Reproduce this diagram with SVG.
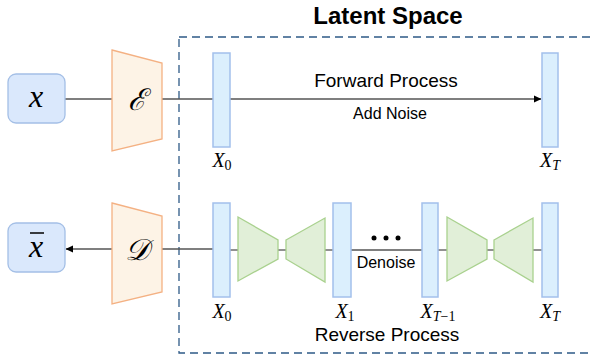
<svg xmlns="http://www.w3.org/2000/svg" width="590" height="360" viewBox="0 0 590 360">
<defs>
<style>
.box{fill:#dae8fc;stroke:#a4bfe6;stroke-width:1.3}
.lat{fill:#dbeffd;stroke:#a3c0eb;stroke-width:1.5}
.enc{fill:#fdf3e6;stroke:#f4b183;stroke-width:1.3}
.net{fill:#e1efd8;stroke:#a9d18e;stroke-width:1.3}
.ln{stroke:#555;stroke-width:1.3;fill:none}
.arr{stroke:#000;stroke-width:1.2;fill:none}
.math{font-family:"Liberation Serif","DejaVu Serif",serif;font-style:italic;fill:#000}
.lbl{font-family:"Liberation Sans",Arial,sans-serif;fill:#000;text-anchor:middle}
.sub{font-size:14px}
</style>
<marker id="ah" markerWidth="8" markerHeight="8" refX="7" refY="4" orient="auto" markerUnits="userSpaceOnUse">
<path d="M0,0.5 L7.5,4 L0,7.5 Z" fill="#000"/>
</marker>
</defs>
<rect x="179" y="37" width="430" height="316" fill="none" stroke="#2e5a87" stroke-width="1.3" stroke-dasharray="8,5"/>
<text class="lbl" x="388" y="24" font-size="24" font-weight="bold">Latent Space</text>
<g id="connectors">
<line class="ln" x1="65" y1="99" x2="112" y2="99"/>
<line class="ln" x1="162" y1="99" x2="213" y2="99"/>
<line class="arr" x1="230" y1="99" x2="541" y2="99" marker-end="url(#ah)"/>
<line class="arr" x1="112" y1="249" x2="66" y2="249" marker-end="url(#ah)"/>
<line class="ln" x1="162" y1="249" x2="213" y2="249"/>
<line class="ln" x1="230" y1="250" x2="238" y2="250"/>
<line class="ln" x1="278" y1="250" x2="286" y2="250"/>
<line class="ln" x1="325" y1="250" x2="333" y2="250"/>
<line class="ln" x1="351" y1="250" x2="422" y2="250"/>
<line class="ln" x1="438" y1="250" x2="447" y2="250"/>
<line class="ln" x1="487" y1="250" x2="494" y2="250"/>
<line class="ln" x1="533" y1="250" x2="542" y2="250"/>
</g>
<g id="x">
<rect class="box" x="8" y="74" width="57" height="49" rx="8"/>
<text class="math" x="36" y="107" font-size="32" text-anchor="middle">x</text>
</g>
<g id="xbar">
<rect class="box" x="8" y="223" width="57" height="49" rx="8"/>
<text class="math" x="36" y="257" font-size="32" text-anchor="middle">x</text>
<line x1="30" y1="233" x2="44" y2="233" stroke="#000" stroke-width="1.5"/>
</g>
<g id="encoder">
<polygon class="enc" points="112,50 162,63 162,139 112,151"/>
<text class="math" x="137" y="110" font-size="30" text-anchor="middle">ℰ</text>
</g>
<g id="decoder">
<polygon class="enc" points="112,203 162,216 162,292 112,304"/>
<text class="math" x="137" y="260" font-size="30" text-anchor="middle">𝒟</text>
</g>
<g id="fwd-x0">
<rect class="lat" x="213" y="53" width="17" height="94"/>
<text class="math" x="222" y="167" font-size="20" text-anchor="middle">X<tspan class="sub" font-style="normal" dy="3">0</tspan></text>
</g>
<g id="fwd-xt">
<rect class="lat" x="542" y="53" width="16" height="94"/>
<text class="math" x="550" y="167" font-size="20" text-anchor="middle">X<tspan class="sub" dy="3">T</tspan></text>
</g>
<text class="lbl" x="386" y="87" font-size="19">Forward Process</text>
<text class="lbl" x="390" y="119" font-size="16">Add Noise</text>
<g id="rev-x0">
<rect class="lat" x="213" y="203" width="17" height="94"/>
<text class="math" x="222" y="318" font-size="20" text-anchor="middle">X<tspan class="sub" font-style="normal" dy="3">0</tspan></text>
</g>
<g id="net1">
<polygon class="net" points="238,217 278,240 278,259 238,281"/>
<polygon class="net" points="286,240 325,218 325,282 286,259"/>
</g>
<g id="rev-x1">
<rect class="lat" x="333" y="203" width="18" height="94"/>
<text class="math" x="345" y="318" font-size="20" text-anchor="middle">X<tspan class="sub" font-style="normal" dy="3">1</tspan></text>
</g>
<g id="dots">
<circle cx="374" cy="238" r="2.5" fill="#000"/>
<circle cx="386" cy="238" r="2.5" fill="#000"/>
<circle cx="398" cy="238" r="2.5" fill="#000"/>
</g>
<text class="lbl" x="386" y="268" font-size="16">Denoise</text>
<g id="rev-xt1">
<rect class="lat" x="422" y="203" width="16" height="94"/>
<text class="math" x="438" y="318" font-size="20" text-anchor="middle">X<tspan class="sub" dy="3">T</tspan><tspan class="sub" font-style="normal">−1</tspan></text>
</g>
<g id="net2">
<polygon class="net" points="447,217 487,240 487,259 447,281"/>
<polygon class="net" points="494,240 533,218 533,282 494,259"/>
</g>
<g id="rev-xt">
<rect class="lat" x="542" y="203" width="16" height="94"/>
<text class="math" x="550" y="318" font-size="20" text-anchor="middle">X<tspan class="sub" dy="3">T</tspan></text>
</g>
<text class="lbl" x="387" y="341" font-size="19">Reverse Process</text>
</svg>
